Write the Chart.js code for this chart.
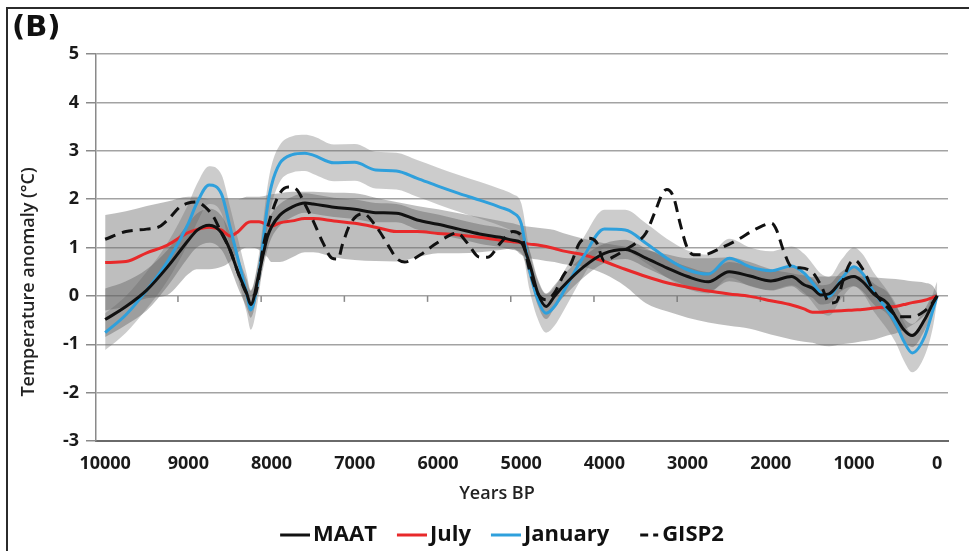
<!DOCTYPE html>
<html>
<head>
<meta charset="utf-8">
<script src="https://cdn.jsdelivr.net/npm/chart.js@4.4.1/dist/chart.umd.min.js"></script>
<style>
  html, body { margin: 0; padding: 0; background: #fff; overflow: hidden; width: 969px; height: 551px; }
  #frame { position: absolute; left: 6px; top: 7px; width: 2000px; height: 2000px;
           border-top: 2px solid #2b2b2b; border-left: 2px solid #2b2b2b; }
  #panel { position: absolute; left: 12px; top: 12px; font: bold 29px "DejaVu Sans", sans-serif; line-height: 1; color: #111; }
  #ctx { position: absolute; left: 0; top: 0; }
</style>
</head>
<body>
<div id="frame"></div>
<canvas id="ctx" width="994" height="560"></canvas>
<div id="panel">(B)</div>
<script>
// years BP shared by MAAT / July / January and their shaded ranges
const years = [10000, 9750, 9500, 9250, 9000, 8900, 8750, 8600, 8500, 8400,
  8300, 8250, 8150, 8050, 8000, 7900, 7750, 7600, 7500, 7250,
  7000, 6750, 6500, 6250, 6000, 5750, 5500, 5250, 5100, 5000,
  4900, 4800, 4700, 4600, 4500, 4250, 4000, 3750, 3500, 3250,
  3000, 2750, 2500, 2250, 2000, 1750, 1600, 1500, 1400, 1300,
  1150, 1000, 900, 750, 600, 500, 400, 300, 150, 50,
  0];

const maat = [-0.49, -0.22, 0.12, 0.60, 1.15, 1.35, 1.46, 1.30, 0.95, 0.47,
  0.06, -0.18, 0.47, 1.22, 1.43, 1.67, 1.84, 1.92, 1.90, 1.83,
  1.79, 1.72, 1.71, 1.57, 1.48, 1.38, 1.28, 1.21, 1.15, 1.10,
  0.67, 0.06, -0.22, -0.01, 0.19, 0.60, 0.88, 0.96, 0.78, 0.58,
  0.40, 0.29, 0.50, 0.41, 0.31, 0.40, 0.23, 0.16, 0.02, 0.04,
  0.30, 0.40, 0.30, 0.02, -0.15, -0.43, -0.70, -0.82, -0.49, -0.15,
  0.00];

const july = [0.69, 0.71, 0.89, 1.05, 1.31, 1.37, 1.42, 1.36, 1.24, 1.33,
  1.50, 1.53, 1.53, 1.47, 1.44, 1.51, 1.55, 1.60, 1.60, 1.55,
  1.50, 1.42, 1.33, 1.33, 1.29, 1.26, 1.21, 1.15, 1.12, 1.10,
  1.07, 1.05, 1.02, 0.98, 0.93, 0.85, 0.71, 0.55, 0.40, 0.27,
  0.18, 0.10, 0.04, -0.01, -0.10, -0.19, -0.27, -0.34, -0.34, -0.32,
  -0.31, -0.29, -0.28, -0.25, -0.23, -0.22, -0.18, -0.14, -0.09, -0.03,
  0.00];

const january = [-0.76, -0.39, 0.12, 0.71, 1.50, 1.91, 2.29, 2.10, 1.43, 0.74,
  0.06, -0.29, 0.47, 1.84, 2.29, 2.74, 2.92, 2.95, 2.91, 2.75,
  2.76, 2.60, 2.58, 2.43, 2.27, 2.12, 1.98, 1.83, 1.72, 1.50,
  0.54, -0.08, -0.36, -0.22, 0.06, 0.81, 1.38, 1.36, 1.09, 0.78,
  0.54, 0.45, 0.78, 0.60, 0.52, 0.62, 0.47, 0.27, 0.06, -0.01,
  0.35, 0.60, 0.47, 0.05, -0.29, -0.56, -0.94, -1.18, -0.84, -0.29,
  0.00];

// shaded ranges (upper / lower edge)
const julyHi = [1.67, 1.75, 1.86, 1.95, 2.05, 2.05, 2.00, 2.00, 2.00, 2.00,
  2.05, 2.05, 2.05, 2.08, 2.10, 2.12, 2.15, 2.15, 2.15, 2.13,
  2.12, 2.03, 1.94, 1.86, 1.79, 1.71, 1.63, 1.55, 1.50, 1.45,
  1.43, 1.41, 1.39, 1.36, 1.30, 1.18, 1.09, 1.02, 0.95, 0.86,
  0.78, 0.78, 0.80, 0.70, 0.55, 0.47, 0.42, 0.39, 0.40, 0.40,
  0.41, 0.42, 0.40, 0.38, 0.36, 0.35, 0.33, 0.30, 0.27, 0.20,
  0.05];
const julyLo = [-0.30, -0.22, -0.05, 0.02, 0.45, 0.55, 0.55, 0.60, 0.70, 0.90,
  1.00, 1.00, 0.95, 0.80, 0.70, 0.70, 0.80, 0.90, 0.90, 0.80,
  0.74, 0.72, 0.71, 0.80, 0.88, 0.88, 0.90, 0.95, 0.98, 0.85,
  0.78, 0.75, 0.72, 0.70, 0.66, 0.60, 0.45, 0.20, -0.15, -0.32,
  -0.45, -0.55, -0.62, -0.68, -0.80, -0.90, -0.95, -0.97, -1.02, -1.04,
  -1.00, -0.97, -0.94, -0.90, -0.82, -0.78, -0.70, -0.60, -0.40, -0.15,
  -0.05];

const maatHi = [0.15, 0.30, 0.55, 0.95, 1.50, 1.70, 1.80, 1.65, 1.30, 0.80,
  0.35, 0.10, 0.75, 1.50, 1.70, 1.90, 2.05, 2.12, 2.10, 2.03,
  1.99, 1.92, 1.90, 1.77, 1.68, 1.58, 1.48, 1.41, 1.35, 1.32,
  0.95, 0.35, 0.05, 0.22, 0.42, 0.82, 1.08, 1.16, 0.98, 0.78,
  0.60, 0.49, 0.70, 0.61, 0.51, 0.60, 0.43, 0.36, 0.22, 0.24,
  0.50, 0.60, 0.50, 0.24, 0.08, -0.20, -0.46, -0.58, -0.27, 0.02,
  0.05];
const maatLo = [-0.85, -0.60, -0.30, 0.20, 0.80, 1.00, 1.10, 0.95, 0.60, 0.15,
  -0.25, -0.45, 0.20, 0.95, 1.20, 1.45, 1.63, 1.72, 1.70, 1.63,
  1.59, 1.52, 1.52, 1.37, 1.28, 1.18, 1.08, 1.01, 0.95, 0.88,
  0.40, -0.20, -0.48, -0.25, -0.04, 0.38, 0.68, 0.76, 0.58, 0.38,
  0.20, 0.09, 0.30, 0.21, 0.11, 0.20, 0.03, -0.04, -0.18, -0.16,
  0.10, 0.20, 0.10, -0.20, -0.38, -0.66, -0.94, -1.06, -0.71, -0.32,
  -0.05];

const janHi = [-0.36, 0.00, 0.50, 1.10, 1.90, 2.30, 2.68, 2.50, 1.85, 1.15,
  0.46, 0.12, 0.88, 2.25, 2.70, 3.12, 3.30, 3.33, 3.30, 3.13,
  3.14, 2.98, 2.96, 2.81, 2.65, 2.50, 2.36, 2.21, 2.10, 1.92,
  0.95, 0.32, 0.04, 0.18, 0.46, 1.20, 1.78, 1.78, 1.50, 1.18,
  0.94, 0.85, 1.18, 1.00, 0.92, 1.02, 0.87, 0.67, 0.46, 0.39,
  0.75, 1.00, 0.87, 0.45, 0.11, -0.16, -0.54, -0.78, -0.44, 0.06,
  0.30];
const janLo = [-1.12, -0.76, -0.26, 0.32, 1.10, 1.50, 1.90, 1.70, 1.00, 0.33,
  -0.34, -0.70, 0.06, 1.43, 1.88, 2.36, 2.55, 2.58, 2.52, 2.37,
  2.38, 2.22, 2.20, 2.05, 1.89, 1.74, 1.60, 1.45, 1.32, 1.10,
  0.13, -0.48, -0.76, -0.62, -0.34, 0.42, 0.98, 0.94, 0.68, 0.38,
  0.14, 0.05, 0.38, 0.20, 0.12, 0.22, 0.07, -0.13, -0.34, -0.41,
  -0.05, 0.20, 0.07, -0.35, -0.69, -0.96, -1.34, -1.58, -1.24, -0.64,
  -0.10];

// GISP2 has its own sampling
const gispYears = [10000, 9750, 9500, 9350, 9250, 9100, 9000, 8900, 8800, 8700,
  8600, 8500, 8400, 8300, 8250, 8200, 8100, 8000, 7900, 7800,
  7700, 7600, 7500, 7380, 7275, 7200, 7150, 7050, 6900, 6750,
  6600, 6500, 6400, 6200, 6050, 5850, 5770, 5650, 5500, 5400,
  5250, 5100, 5000, 4900, 4800, 4700, 4600, 4500, 4400, 4300,
  4200, 4100, 4000, 3900, 3750, 3600, 3500, 3400, 3300, 3250,
  3170, 3090, 3010, 2930, 2810, 2610, 2410, 2170, 1990, 1930,
  1850, 1750, 1650, 1490, 1390, 1290, 1210, 1130, 1050, 990,
  890, 770, 610, 450, 290, 190, 90, 0];
const gisp2 = [1.17, 1.33, 1.38, 1.43, 1.57, 1.84, 1.92, 1.94, 1.84, 1.64,
  1.29, 0.95, 0.47, 0.05, 0.00, 0.02, 1.02, 1.70, 2.12, 2.25,
  2.20, 1.90, 1.55, 1.09, 0.78, 0.76, 1.05, 1.50, 1.70, 1.45,
  1.05, 0.78, 0.70, 0.86, 1.05, 1.26, 1.30, 1.10, 0.80, 0.80,
  1.09, 1.33, 1.25, 0.54, 0.05, -0.08, 0.06, 0.40, 0.67, 1.09,
  1.19, 1.12, 0.72, 0.80, 0.95, 1.12, 1.30, 1.70, 2.12, 2.20,
  2.05, 1.50, 1.02, 0.85, 0.85, 0.98, 1.15, 1.39, 1.50, 1.36,
  0.95, 0.60, 0.58, 0.47, 0.19, -0.15, -0.12, 0.33, 0.67, 0.74,
  0.54, 0.12, -0.22, -0.43, -0.43, -0.36, -0.22, 0.00];

const xTicks = [10000, 9000, 8000, 7000, 6000, 5000, 4000, 3000, 2000, 1000, 0];

const pts = (xs, ys) => xs.map((x, i) => ({ x: x, y: ys[i] }));

// legend sample: a short line drawn close to its label, like the Excel legend
function legendMark(color, segs) {
  const c = document.createElement('canvas');
  c.width = 48;
  c.height = 6;
  const g = c.getContext('2d');
  g.strokeStyle = color;
  g.lineWidth = 3;
  segs.forEach(s => {
    g.beginPath();
    g.moveTo(s[0], 3);
    g.lineTo(s[1], 3);
    g.stroke();
  });
  return c;
}

function line(label, xs, ys, color, order, mark, dash) {
  return {
    label: label, data: pts(xs, ys), borderColor: color, backgroundColor: color,
    borderWidth: 3, borderDash: dash || [], fill: false, order: order,
    pointStyle: mark
  };
}
function band(hi, lo, color, order) {
  return [
    { label: 'band', data: pts(years, hi), borderColor: 'transparent', borderWidth: 0, backgroundColor: color, fill: '+1', order: order },
    { label: 'band', data: pts(years, lo), borderColor: 'transparent', borderWidth: 0, fill: false, order: order }
  ];
}

// little tick marks hanging off the zero line
const zeroTicks = {
  id: 'zeroTicks',
  beforeDatasetsDraw(chart) {
    const { ctx, scales: { x, y } } = chart;
    const y0 = y.getPixelForValue(0);
    ctx.save();
    ctx.strokeStyle = '#8a8a8a';
    ctx.lineWidth = 1.5;
    xTicks.filter(v => v > 0 && v < 10000).forEach(v => {
      const px = x.getPixelForValue(v + 125);
      ctx.beginPath();
      ctx.moveTo(px, y0);
      ctx.lineTo(px, y0 + 6);
      ctx.stroke();
    });
    ctx.restore();
  }
};

Chart.defaults.font.family = "'Open Sans', sans-serif";
Chart.defaults.color = '#1a1a1a';

const ctx = document.getElementById('ctx');

const chart = new Chart(ctx, {
  type: 'line',
  data: {
    datasets: [
      line('MAAT', years, maat, '#111111', 1, legendMark('#111111', [[18, 48]])),
      line('July', years, july, '#e8292a', 3, legendMark('#e8292a', [[18, 48]])),
      line('January', years, january, '#2fa0dc', 2, legendMark('#2fa0dc', [[18, 48]])),
      line('GISP2', gispYears, gisp2, '#111111', 0, legendMark('#111111', [[29, 37], [42, 47]]), [11, 7]),
      ...band(julyHi, julyLo, 'rgba(110,110,110,0.45)', 6),
      ...band(janHi, janLo, 'rgba(110,110,110,0.35)', 5),
      ...band(maatHi, maatLo, 'rgba(90,90,90,0.40)', 4)
    ]
  },
  options: {
    responsive: false,
    animation: false,
    events: [],
    layout: { padding: { top: 8, bottom: 4, left: 0, right: 0 } },
    elements: {
      point: { radius: 0 },
      line: { cubicInterpolationMode: 'monotone' }
    },
    plugins: {
      tooltip: { enabled: false },
      legend: {
        position: 'bottom',
        labels: {
          usePointStyle: true,
          pointStyleWidth: 32,
          padding: 10,
          color: '#111',
          font: { size: 22, weight: 'bold' },
          filter: item => item.datasetIndex < 4,
          sort: (a, b) => a.datasetIndex - b.datasetIndex
        }
      },
      title: {
        display: true,
        position: 'left',
        text: 'Temperature anomaly (°C)',
        color: '#222',
        font: { size: 18, weight: '600' },
        padding: { top: 18.4, bottom: 11 }
      },
      subtitle: {
        display: true,
        position: 'bottom',
        weight: 500,
        text: 'Years BP',
        color: '#222',
        font: { size: 18, weight: '600' },
        padding: { top: 4, bottom: 9.4 }
      }
    },
    scales: {
      x: {
        type: 'linear',
        reverse: true,
        min: -130,
        max: 10110,
        afterBuildTicks: s => { s.ticks = xTicks.map(v => ({ value: v })); },
        afterFit: s => { s.height = 38; },
        grid: { display: false, drawTicks: false },
        border: { display: true, color: '#6a6a6a', width: 2 },
        ticks: {
          font: { size: 18, weight: 'bold' },
          padding: 12,
          maxRotation: 0,
          autoSkip: false,
          callback: v => String(v)
        }
      },
      y: {
        min: -3,
        max: 5,
        afterFit: s => { s.width = 45; },
        grid: { color: '#a3a3a3', lineWidth: 1.5, tickLength: 10, tickColor: '#8a8a8a' },
        border: { color: '#8a8a8a', width: 1.5 },
        ticks: {
          stepSize: 1,
          padding: 7,
          font: { size: 18, weight: 'bold' },
          callback: v => String(v)
        }
      },
      xTop: {
        type: 'linear',
        position: 'top',
        grid: { display: false, drawTicks: false },
        border: { display: false },
        ticks: { display: false },
        afterFit: s => { s.height = 46; }
      },
      yRight: {
        type: 'linear',
        position: 'right',
        grid: { display: false, drawTicks: false },
        border: { display: false },
        ticks: { display: false },
        afterFit: s => { s.width = 46; }
      }
    }
  },
  plugins: [zeroTicks]
});
</script>
</body>
</html>
